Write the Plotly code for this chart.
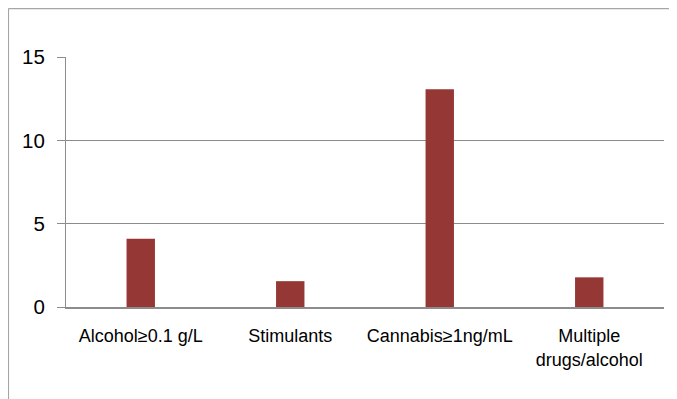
import plotly.graph_objects as go

# Data
categories = ["Alcohol≥0.1 g/L", "Stimulants", "Cannabis≥1ng/mL", "Multiple<br>drugs/alcohol"]
values = [4.1, 1.55, 13.07, 1.78]

bar_color = "#953735"
grid_color = "#8c8c8c"

# the page body has an 8px margin, so the figure is sized/offset to fit the window
fig = go.Figure(go.Bar(
    x=categories,
    y=values,
    marker=dict(color=bar_color, line=dict(width=0)),
))

fig.update_layout(
    width=669,
    height=391,
    margin=dict(l=58, r=13, t=49, b=91.5),
    paper_bgcolor="white",
    plot_bgcolor="white",
    bargap=0.81,
    showlegend=False,
    font=dict(family="Liberation Sans, Arial, sans-serif", color="#000000"),
    shapes=[
        # outer chart-area border: left and top edges only (the rest runs off the page)
        dict(type="line", xref="paper", yref="paper",
             x0=-0.0962, x1=-0.0962, y0=-0.5, y1=1.1936,
             line=dict(color="#a6a6a6", width=1.2), layer="below"),
        dict(type="line", xref="paper", yref="paper",
             x0=-0.0962, x1=1.1, y0=1.1936, y1=1.1936,
             line=dict(color="#a6a6a6", width=1.2), layer="below"),
    ],
)

fig.update_yaxes(
    range=[0, 15],
    tickvals=[0, 5, 10, 15],
    showgrid=True,
    gridcolor=grid_color,
    gridwidth=1.2,
    zeroline=False,
    showline=True,
    linecolor=grid_color,
    linewidth=1.2,
    ticks="outside",
    ticklen=8,
    tickcolor=grid_color,
    tickwidth=1.2,
    tickfont=dict(size=20.5),
    ticklabelstandoff=8,
)

fig.update_xaxes(
    showline=True,
    linecolor=grid_color,
    linewidth=1.5,
    ticks="",
    tickfont=dict(size=18),
    tickangle=0,
    ticklabelstandoff=12,
)

fig.write_html("out.html")
